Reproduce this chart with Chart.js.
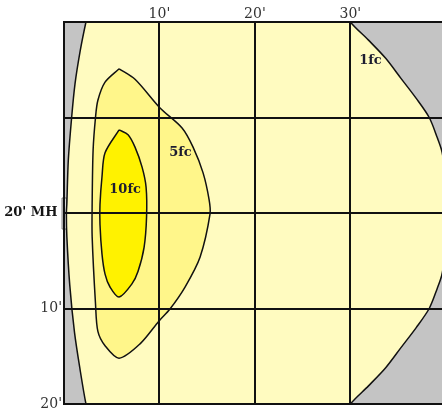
<!DOCTYPE html>
<html>
<head>
<meta charset="utf-8">
<script src="https://cdn.jsdelivr.net/npm/chart.js@4.4.1/dist/chart.umd.min.js"></script>
<style>
  body { margin: 0; background: #ffffff; }
  canvas { display: block; }
</style>
</head>
<body>
<canvas id="chart" width="442" height="408"></canvas>
<script>
// contour outlines, in feet (x = distance out, y = distance along, 0 = pole)
const fc10X = [5.77, 4.30, 3.98, 3.77, 3.77, 3.98, 4.30, 4.82, 5.77, 7.13, 7.76, 8.39, 8.65, 8.60, 8.18, 7.44, 6.71, 5.77];
const fc10Y = [-8.7, -6.3, -3.8, -0.9, 1.2, 4.3, 6.4, 7.75, 8.8, 7.4, 6.1, 3.6, 0.4, -2.7, -4.8, -6.9, -8.2, -8.7];

const fc5X = [5.77, 4.30, 3.55, 3.30, 3.05, 2.95, 2.95, 3.30, 3.55, 4.30, 5.77, 7.97, 9.96, 11.10, 12.68, 14.26, 15.30, 15.20, 14.57, 13.52, 12.37, 10.06, 7.44, 5.77];
const fc5Y = [-15.1, -13.7, -11.8, -10.0, -6.6, -1.0, 2.5, 9.5, 12.4, 13.9, 15.2, 13.7, 11.3, 10.05, 7.75, 4.6, 0.1, -1.4, -4.2, -6.9, -8.9, -11.0, -14.0, -15.1];

const fc1X = [3.0, 2.3, 1.7, 1.15, 0.8, 0.45, 0.3, 0.25, 0.3, 0.6, 1.1, 1.7, 2.3, 3.0, 28.0, 30.0, 31.9, 33.7, 35.3, 36.9, 38.26, 39.1, 39.6, 40.1, 40.3, 40.1, 39.6, 39.1, 38.26, 36.9, 35.3, 33.7, 31.9, 30.0, 28.0, 3.0];
const fc1Y = [-23, -20, -17, -13.5, -10, -5.5, -1, 0, 2.5, 7.5, 12.5, 16.5, 20, 23, 23, 20, 18.1, 16.2, 14.1, 12.0, 10.0, 7.9, 6.4, 3, 0, -3, -6.4, -7.9, -10.0, -12.0, -14.1, -16.2, -18.1, -20, -23, -23];

// fixture outline at the pole
const poleX = [-0.2, 0.3, 0.3, -0.2, -0.2];
const poleY = [-1.57, -1.57, 1.68, 1.68, -1.57];

const zoneNames = ['10fc', '5fc', '1fc'];
const zoneLabelX = [6.4, 12.2, 32.1];
const zoneLabelY = [-2.4, -6.3, -16.0];

const xMin = 0;
const xMax = 39.6;
const yMin = -20;
const yMax = 20;

const toPoints = (xs, ys) => xs.map((x, i) => ({ x: x, y: ys[i] }));

const contour = (label, xs, ys, color) => ({
    label: label,
    data: toPoints(xs, ys),
    showLine: true,
    fill: 'shape',
    backgroundColor: color,
    borderColor: '#111111',
    borderWidth: 1.5,
    tension: 0.3,
    pointRadius: 0,
    clip: 0
});

const plotBackground = {
    id: 'plotBackground',
    beforeDraw(chart) {
        const { ctx, chartArea } = chart;
        ctx.save();
        ctx.fillStyle = '#c4c4c4';
        ctx.fillRect(chartArea.left, chartArea.top, chartArea.right - chartArea.left, chartArea.bottom - chartArea.top);
        ctx.restore();
    }
};

const zoneText = {
    id: 'zoneText',
    afterDraw(chart) {
        const { ctx, scales } = chart;
        ctx.save();
        ctx.font = 'bold 13px "DejaVu Serif"';
        ctx.fillStyle = '#1c1c30';
        ctx.textAlign = 'center';
        ctx.textBaseline = 'middle';
        zoneNames.forEach((name, i) => {
            ctx.fillText(name, scales.x.getPixelForValue(zoneLabelX[i]), scales.y.getPixelForValue(zoneLabelY[i]));
        });
        ctx.restore();
    }
};

new Chart(document.getElementById('chart'), {
    type: 'scatter',
    data: {
        datasets: [
            contour('10fc', fc10X, fc10Y, '#fff200'),
            contour('5fc', fc5X, fc5Y, '#fff68a'),
            contour('1fc', fc1X, fc1Y, '#fffbc0'),
            {
                label: 'pole',
                data: toPoints(poleX, poleY),
                showLine: true,
                fill: 'shape',
                backgroundColor: '#d9d9d9',
                borderColor: '#707070',
                borderWidth: 1,
                tension: 0,
                pointRadius: 0,
                clip: false
            }
        ]
    },
    options: {
        responsive: false,
        animation: false,
        events: [],
        layout: { padding: { top: 0, right: 0, bottom: 4, left: 0 } },
        plugins: {
            legend: { display: false },
            tooltip: { enabled: false }
        },
        scales: {
            x: {
                type: 'linear',
                position: 'top',
                min: xMin,
                max: xMax,
                afterFit: (scale) => {
                    scale.height = 22;
                    scale.paddingLeft = 0;
                    scale.paddingRight = 0;
                },
                grid: {
                    z: 1,
                    color: (ctx) => (ctx.tick && ctx.tick.value > 35 ? 'rgba(0,0,0,0)' : '#111111'),
                    lineWidth: 2,
                    drawTicks: false
                },
                border: { z: 1, color: '#111111', width: 2 },
                ticks: {
                    z: 1,
                    stepSize: 10,
                    padding: -1,
                    color: '#333333',
                    font: { family: 'DejaVu Serif', size: 14 },
                    callback: (v) => (v > 0 && v < 35 ? v + "'" : '')
                }
            },
            y: {
                type: 'linear',
                reverse: true,
                min: yMin,
                max: yMax,
                afterFit: (scale) => {
                    scale.width = 64;
                    scale.paddingTop = 0;
                    scale.paddingBottom = 0;
                },
                grid: {
                    z: 1,
                    color: '#111111',
                    lineWidth: 2,
                    drawTicks: false
                },
                border: { z: 1, color: '#111111', width: 2 },
                ticks: {
                    z: 1,
                    stepSize: 10,
                    padding: 2,
                    color: (ctx) => (ctx.tick && ctx.tick.value === 0 ? '#151515' : '#333333'),
                    font: (ctx) => (ctx.tick && ctx.tick.value === 0
                        ? { family: 'DejaVu Serif', size: 13, weight: 'bold' }
                        : { family: 'DejaVu Serif', size: 14 }),
                    callback: (v) => (v === 0 ? "20' MH " : v > 0 ? v + "'" : '')
                }
            }
        }
    },
    plugins: [plotBackground, zoneText]
});
</script>
</body>
</html>
